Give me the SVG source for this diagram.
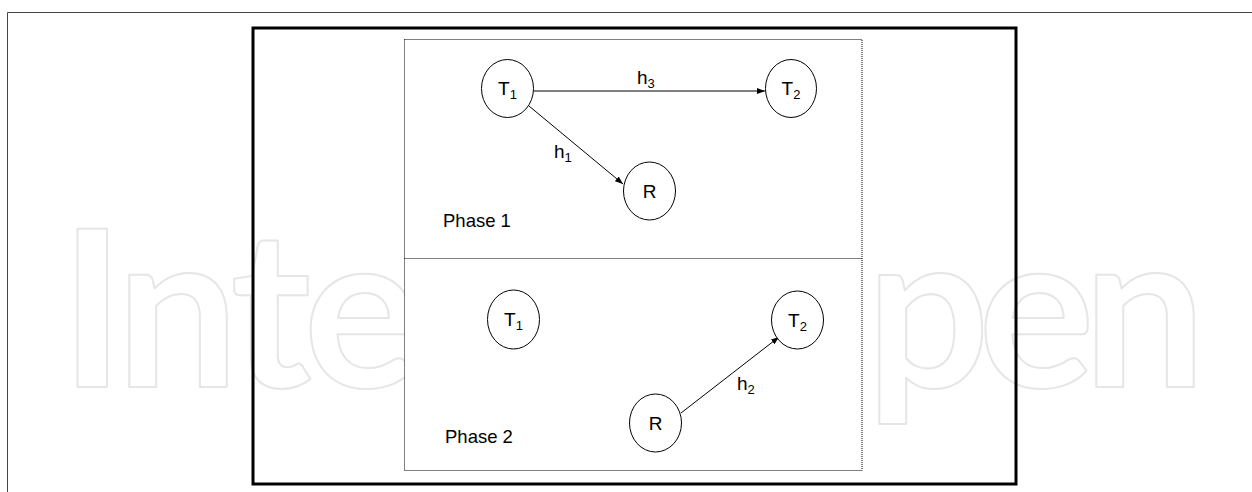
<svg xmlns="http://www.w3.org/2000/svg" width="1252" height="492" viewBox="0 0 1252 492">
  <style>
    .lbl { font-family: "Liberation Sans", Arial, sans-serif; font-size: 19px; fill: #000; }
    .sub { font-size: 13px; }
    .phase { font-family: "Liberation Sans", Arial, sans-serif; font-size: 18.5px; fill: #000; }
    .node { fill: #fff; stroke: #000; stroke-width: 1; }
    .conn { stroke: #000; stroke-width: 1; fill: none; marker-end: url(#arrow); }
    .dot { stroke: #000; stroke-width: 1; stroke-dasharray: 1,1; }
    .wm { font-family: Lato, "Open Sans", sans-serif; font-weight: 700; font-size: 218px; fill: none; stroke: #e6e6e6; stroke-width: 2; stroke-linejoin: round; }
  </style>
  <defs>
    <marker id="arrow" viewBox="0 0 8 6" refX="8" refY="3" markerWidth="8" markerHeight="6" markerUnits="userSpaceOnUse" orient="auto">
      <path d="M0,0 L8,3 L0,6 z" fill="#000"/>
    </marker>
  </defs>
  <rect width="1252" height="492" fill="#fff"/>
  <path d="M7.5,492 V12.5 H1252" fill="none" stroke="#444" stroke-width="1"/>
  <g id="watermark">
    <text class="wm" x="60" y="387" textLength="360" lengthAdjust="spacing">Inte</text>
    <text class="wm" x="866" y="387" textLength="340" lengthAdjust="spacing">pen</text>
  </g>
  <rect x="253" y="28" width="763" height="456" fill="none" stroke="#000" stroke-width="3"/>
  <g id="phase-boxes">
    <rect class="dot" x="404.5" y="39.5" width="457.5" height="431" fill="#fff"/>
    <line class="dot" x1="404.5" y1="258.5" x2="862" y2="258.5"/>
    <text class="phase" x="443" y="227">Phase 1</text>
    <text class="phase" x="445" y="443">Phase 2</text>
  </g>
  <g id="connectors">
    <line class="conn" x1="533.5" y1="91" x2="765" y2="91"/>
    <text class="lbl" x="637" y="84">h<tspan class="sub" dy="4">3</tspan></text>
    <line class="conn" x1="529" y1="106" x2="623" y2="184"/>
    <text class="lbl" x="554" y="158">h<tspan class="sub" dy="4">1</tspan></text>
    <line class="conn" x1="681" y1="413" x2="779" y2="337"/>
    <text class="lbl" x="737" y="390">h<tspan class="sub" dy="4">2</tspan></text>
  </g>
  <g id="p1-T1">
    <ellipse class="node" cx="507.5" cy="88.5" rx="26" ry="29"/>
    <text class="lbl" x="507.5" y="95" text-anchor="middle">T<tspan class="sub" dy="4">1</tspan></text>
  </g>
  <g id="p1-T2">
    <ellipse class="node" cx="791" cy="88.5" rx="25.5" ry="29"/>
    <text class="lbl" x="791" y="95" text-anchor="middle">T<tspan class="sub" dy="4">2</tspan></text>
  </g>
  <g id="p1-R">
    <ellipse class="node" cx="649.5" cy="191" rx="26" ry="29"/>
    <text class="lbl" x="649.5" y="198" text-anchor="middle">R</text>
  </g>
  <g id="p2-T1">
    <ellipse class="node" cx="513.5" cy="319.5" rx="26" ry="29.5"/>
    <text class="lbl" x="513.5" y="326" text-anchor="middle">T<tspan class="sub" dy="4">1</tspan></text>
  </g>
  <g id="p2-T2">
    <ellipse class="node" cx="797.5" cy="320" rx="26" ry="29"/>
    <text class="lbl" x="797.5" y="326.5" text-anchor="middle">T<tspan class="sub" dy="4">2</tspan></text>
  </g>
  <g id="p2-R">
    <ellipse class="node" cx="655.5" cy="423" rx="26" ry="29"/>
    <text class="lbl" x="655.5" y="430" text-anchor="middle">R</text>
  </g>
</svg>
